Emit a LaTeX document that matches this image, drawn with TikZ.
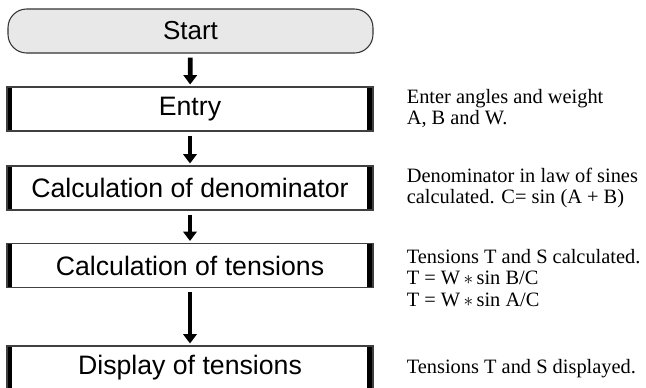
\documentclass[tikz,border=0pt]{standalone}
\usepackage{fontspec}
\setmainfont{Liberation Serif}
\newfontfamily\boxfont{Liberation Sans}
\usetikzlibrary{arrows.meta}

\begin{document}
\begin{tikzpicture}[x=0.75pt,y=-0.75pt,
    terminal/.style={draw=black!80, line width=0.8pt, fill=black!9, rounded corners=14pt,
      minimum width=273.75pt, minimum height=33pt, inner sep=0pt,
      font=\boxfont\fontsize{19.5}{22}\selectfont},
    procbox/.style={draw=black!75, line width=0.8pt, minimum width=274.5pt, minimum height=33pt,
      inner sep=0pt, font=\boxfont\fontsize{20}{22}\selectfont,
      path picture={
        \fill (path picture bounding box.north west) rectangle ([xshift=3.8pt]path picture bounding box.south west);
        \fill ([xshift=-4.2pt]path picture bounding box.north east) rectangle (path picture bounding box.south east);}},
    note/.style={anchor=north west, align=left, inner sep=0pt, font=\fontsize{15.3}{16}\selectfont},
    flowarrow/.style={line width=3.6pt, -{Triangle[width=10pt,length=7pt]}, shorten <=3pt, shorten >=1.5pt}]

  \useasboundingbox (0,0) rectangle (646,387);

  % flow chart
  \node[terminal] (start) at (190.5,31) {Start};
  \node[procbox] (entry) at (190,109) {Entry};
  \node[procbox] (denom) at (190,188) {Calculation of denominator};
  \node[procbox] (tens) at (190,265.5) {Calculation of tensions};
  \node[procbox] (disp) at (190,368) {Display of tensions};

  \draw[flowarrow] (start) -- (entry);
  \draw[flowarrow] (entry) -- (denom);
  \draw[flowarrow] (denom) -- (tens);
  \draw[flowarrow] (tens) -- (disp);

  % notes
  \node[note] (nentry) at ([xshift=24.75pt,yshift=-2pt]entry.north east)
    {Enter angles and weight\\A, B and W.};
  \node[note] (ndenom) at ([xshift=24.75pt,yshift=-1.5pt]denom.north east)
    {Denominator in law of sines\\calculated. C= sin (A + B)};
  \node[note] (ntens) at ([xshift=24.75pt,yshift=-4.5pt]tens.north east)
    {Tensions T and S calculated.\\T = W\,$\ast$\,sin B/C\\T = W\,$\ast$\,sin A/C};
  \node[note] (ndisp) at ([xshift=24.75pt,yshift=-10pt]disp.north east)
    {Tensions T and S displayed.};

\end{tikzpicture}
\end{document}
